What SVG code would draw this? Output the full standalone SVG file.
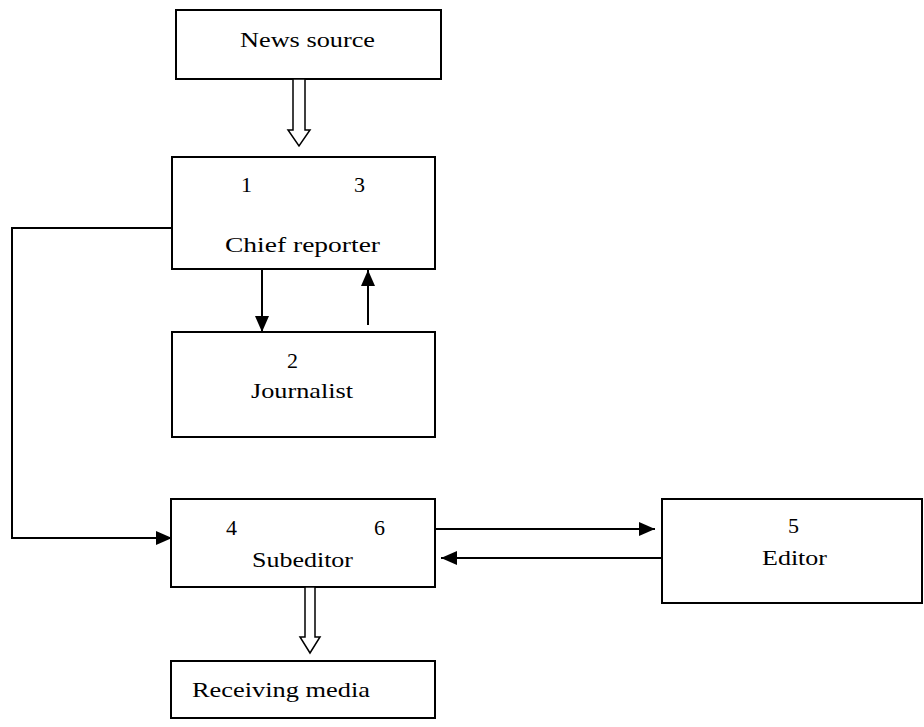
<svg xmlns="http://www.w3.org/2000/svg" width="924" height="727" viewBox="0 0 924 727">
<defs>
<style>
.box{fill:#fff;stroke:#000;stroke-width:2}
.t{font-family:"Liberation Serif","Times New Roman",serif;font-size:22px;fill:#000}
.c{text-anchor:middle}
.ln{fill:none;stroke:#000;stroke-width:2}
.hollow{fill:#fff;stroke:#000;stroke-width:1.5}
</style>
<marker id="ah2" viewBox="0 0 16 14" refX="16" refY="7" markerWidth="16" markerHeight="14" markerUnits="userSpaceOnUse" orient="auto">
<path d="M0,0 L16,7 L0,14 Z" fill="#000"/>
</marker>
</defs>
<g id="news-source">
<rect class="box" x="176" y="10" width="265" height="69"/>
<text class="t" font-family="Liberation Serif, serif" x="240" y="47" textLength="135" lengthAdjust="spacingAndGlyphs">News source</text>
</g>
<g id="chief-reporter">
<rect class="box" x="172" y="157" width="263" height="112"/>
<text class="t" font-family="Liberation Serif, serif" x="241" y="192">1</text>
<text class="t" font-family="Liberation Serif, serif" x="354" y="192">3</text>
<text class="t" font-family="Liberation Serif, serif" x="225" y="252" textLength="155" lengthAdjust="spacingAndGlyphs">Chief  reporter</text>
</g>
<g id="journalist">
<rect class="box" x="172" y="332" width="263" height="105"/>
<text class="t" font-family="Liberation Serif, serif" x="287" y="368">2</text>
<text class="t" font-family="Liberation Serif, serif" x="251" y="398" textLength="102" lengthAdjust="spacingAndGlyphs">Journalist</text>
</g>
<g id="subeditor">
<rect class="box" x="171" y="499" width="264" height="88"/>
<text class="t" font-family="Liberation Serif, serif" x="226" y="535">4</text>
<text class="t" font-family="Liberation Serif, serif" x="374" y="535">6</text>
<text class="t" font-family="Liberation Serif, serif" x="252" y="567" textLength="101" lengthAdjust="spacingAndGlyphs">Subeditor</text>
</g>
<g id="editor">
<rect class="box" x="662" y="499" width="260" height="104"/>
<text class="t" font-family="Liberation Serif, serif" x="788" y="533">5</text>
<text class="t" font-family="Liberation Serif, serif" x="762" y="565" textLength="65" lengthAdjust="spacingAndGlyphs">Editor</text>
</g>
<g id="receiving-media">
<rect class="box" x="171" y="661" width="264" height="57"/>
<text class="t" font-family="Liberation Serif, serif" x="192" y="697" textLength="178" lengthAdjust="spacingAndGlyphs">Receiving media</text>
</g>
<g id="connectors">
<path class="hollow" d="M293,79 L293,130 L288,130 L299,146 L310,130 L305,130 L305,79 Z"/>
<path class="hollow" d="M305,587 L305,637 L300,637 L310,653 L320,637 L315,637 L315,587 Z"/>
<line class="ln" x1="262" y1="269" x2="262" y2="332" marker-end="url(#ah2)"/>
<line class="ln" x1="368" y1="325" x2="368" y2="270" marker-end="url(#ah2)"/>
<polyline class="ln" points="172,228 12,228 12,538 172,538" marker-end="url(#ah2)"/>
<line class="ln" x1="435" y1="529" x2="655" y2="529" marker-end="url(#ah2)"/>
<line class="ln" x1="662" y1="558" x2="441" y2="558" marker-end="url(#ah2)"/>
</g>
</svg>
